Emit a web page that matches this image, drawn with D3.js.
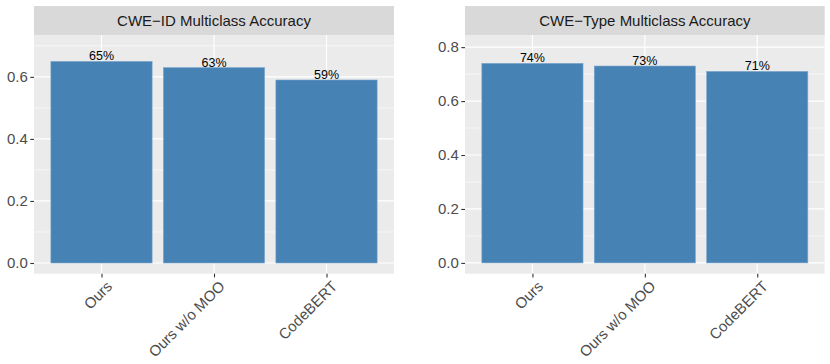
<!DOCTYPE html>
<html>
<head>
<meta charset="utf-8">
<script src="https://cdn.jsdelivr.net/npm/d3@7"></script>
<style>
  body { margin: 0; background: #fff; }
  text { font-family: "Liberation Sans", Arial, sans-serif; }
</style>
</head>
<body>
<svg id="chart" width="830" height="364"></svg>
<script>
// data
const categories = ['Ours', 'Ours w/o MOO', 'CodeBERT'];
const idAccuracy = [0.65, 0.63, 0.59];
const typeAccuracy = [0.74, 0.73, 0.71];
const idTicks = [0.0, 0.2, 0.4, 0.6];
const typeTicks = [0.0, 0.2, 0.4, 0.6, 0.8];
const titles = ['CWE\u2212ID Multiclass Accuracy', 'CWE\u2212Type Multiclass Accuracy'];

const svg = d3.select('#chart');

const stripTop = 6;
const panelTop = 35;
const panelBottom = 273.7;

const drawPanel = (x0, x1, values, ticks, yMax, yMin, title) => {
	const g = svg.append('g');

	// Scales
	// ggplot-like discrete expand: 0.6 units each side, bar width 0.9
	const xscale = d3
		.scalePoint()
		.domain(categories)
		.range([x0, x1])
		.padding(0.6);
	const unit = xscale.step();

	const yscale = d3.scaleLinear().domain([yMin, yMax]).range([panelBottom, panelTop]);

	// strip
	g.append('rect')
		.attr('x', x0).attr('y', stripTop)
		.attr('width', x1 - x0).attr('height', panelTop - stripTop)
		.attr('fill', '#D9D9D9');
	g.append('text')
		.attr('x', (x0 + x1) / 2).attr('y', (stripTop + panelTop) / 2)
		.attr('dy', '0.36em')
		.attr('text-anchor', 'middle')
		.attr('font-size', '15px')
		.attr('fill', '#1A1A1A')
		.text(title);

	// panel background
	g.append('rect')
		.attr('x', x0).attr('y', panelTop)
		.attr('width', x1 - x0).attr('height', panelBottom - panelTop)
		.attr('fill', '#EBEBEB');

	// minor grid
	const minor = ticks.map((t) => t + 0.1).filter((t) => t < yMax);
	g.selectAll('.minor')
		.data(minor)
		.enter()
		.append('line')
		.attr('x1', x0).attr('x2', x1)
		.attr('y1', (d) => yscale(d)).attr('y2', (d) => yscale(d))
		.attr('stroke', '#fff').attr('stroke-width', 0.6);

	// major grid
	g.selectAll('.major')
		.data(ticks)
		.enter()
		.append('line')
		.attr('x1', x0).attr('x2', x1)
		.attr('y1', (d) => yscale(d)).attr('y2', (d) => yscale(d))
		.attr('stroke', '#fff').attr('stroke-width', 1.2);
	g.selectAll('.vgrid')
		.data(categories)
		.enter()
		.append('line')
		.attr('x1', (d) => xscale(d)).attr('x2', (d) => xscale(d))
		.attr('y1', panelTop).attr('y2', panelBottom)
		.attr('stroke', '#fff').attr('stroke-width', 1.2);

	// bars
	g.selectAll('.bar')
		.data(values)
		.enter()
		.append('rect')
		.attr('class', 'bar')
		.attr('x', (d, i) => xscale(categories[i]) - 0.45 * unit)
		.attr('y', (d) => yscale(d))
		.attr('width', 0.9 * unit)
		.attr('height', (d) => yscale(0) - yscale(d))
		.attr('fill', '#4682B4')
		.attr('stroke', '#7FA8CC')
		.attr('stroke-width', 0.6);

	// value labels
	g.selectAll('.lbl')
		.data(values)
		.enter()
		.append('text')
		.attr('x', (d, i) => xscale(categories[i]))
		.attr('y', (d) => yscale(d) - 1)
		.attr('text-anchor', 'middle')
		.attr('font-size', '12.5px')
		.attr('fill', '#000')
		.text((d) => `${Math.round(d * 100)}%`);

	// y axis
	const leftAxis = d3.axisLeft(yscale)
		.tickValues(ticks)
		.tickFormat(d3.format('.1f'))
		.tickSize(3.7)
		.tickPadding(2.5);
	const ya = g.append('g').attr('transform', `translate(${x0}, 0)`).call(leftAxis);
	ya.select('.domain').remove();
	ya.selectAll('line').attr('stroke', '#333333').attr('stroke-width', 1.1);
	ya.selectAll('text').attr('font-size', '15px').attr('fill', '#4D4D4D').attr('font-family', '"Liberation Sans", Arial, sans-serif');

	// x axis
	const bottomAxis = d3.axisBottom(xscale).tickSize(3.7).tickFormat('');
	const xa = g.append('g').attr('transform', `translate(0, ${panelBottom})`).call(bottomAxis);
	xa.select('.domain').remove();
	xa.selectAll('line').attr('stroke', '#333333').attr('stroke-width', 1.1);

	g.selectAll('.xlbl')
		.data(categories)
		.enter()
		.append('text')
		.attr('transform', (d) => `translate(${xscale(d) + 4}, ${panelBottom + 6}) rotate(-45)`)
		.attr('text-anchor', 'end')
		.attr('dy', '0.72em')
		.attr('font-size', '15px')
		.attr('fill', '#4D4D4D')
		.text((d) => d);
};

drawPanel(34, 394, idAccuracy, idTicks, 0.735, -0.0345, titles[0]);
drawPanel(465, 824.7, typeAccuracy, typeTicks, 0.845, -0.04, titles[1]);
</script>
</body>
</html>
